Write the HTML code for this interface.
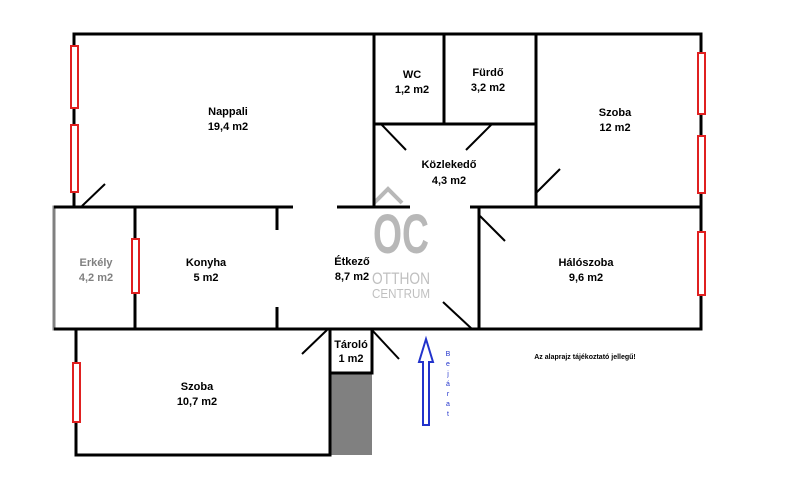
<!DOCTYPE html>
<html><head><meta charset="utf-8"><style>
body{margin:0;background:#fff}
svg text{font-family:"Liberation Sans",sans-serif;font-weight:bold;font-size:11px;text-anchor:middle}
svg text.n{font-weight:normal}
</style></head><body>
<svg width="800" height="486" xmlns="http://www.w3.org/2000/svg">
<!-- watermark -->
<g>
<text x="401" y="253" style="font-size:56px;fill:#b8b8b8" textLength="56" lengthAdjust="spacingAndGlyphs">OC</text>
<polyline points="374,203 388,189 402,203" fill="none" stroke="#b8b8b8" stroke-width="4"/>
<text class="n" x="401" y="284" style="font-size:17px;fill:#c0c0c0" textLength="58" lengthAdjust="spacingAndGlyphs">OTTHON</text>
<text class="n" x="401" y="298" style="font-size:13px;fill:#c0c0c0" textLength="58" lengthAdjust="spacingAndGlyphs">CENTRUM</text>
</g>
<!-- erkely grey -->
<polyline points="74,207 54,207 54,329 76,329" fill="none" stroke="#808080" stroke-width="3"/>
<rect x="330" y="373" width="42" height="82" fill="#808080"/>
<g stroke="#000" stroke-width="3" fill="none">
<polyline points="74,207 74,34 701,34 701,329 54,329"/>
<line x1="54" y1="207" x2="293" y2="207"/>
<line x1="337" y1="207" x2="410" y2="207"/>
<line x1="470" y1="207" x2="701" y2="207"/>
<line x1="479" y1="207" x2="479" y2="329"/>
<line x1="374" y1="34" x2="374" y2="207"/>
<line x1="444" y1="34" x2="444" y2="124"/>
<line x1="374" y1="124" x2="536" y2="124"/>
<line x1="536" y1="34" x2="536" y2="207"/>
<line x1="135" y1="207" x2="135" y2="329"/>
<line x1="277" y1="207" x2="277" y2="230"/>
<line x1="277" y1="307" x2="277" y2="329"/>
<polyline points="76,329 76,455 330,455 330,329"/>
<polyline points="330,373 372,373 372,329"/>
</g>
<g stroke="#000" stroke-width="2">
<line x1="82" y1="206" x2="105" y2="184"/>
<line x1="381" y1="124" x2="406" y2="150"/>
<line x1="466" y1="150" x2="492" y2="124"/>
<line x1="536" y1="193" x2="560" y2="169"/>
<line x1="480" y1="216" x2="505" y2="241"/>
<line x1="443" y1="302" x2="472" y2="329"/>
<line x1="327" y1="330" x2="302" y2="354"/>
<line x1="372" y1="330" x2="399" y2="359"/>
</g>
<g fill="#fff" stroke="#e02020" stroke-width="2">
<rect x="71" y="46" width="7" height="62"/>
<rect x="71" y="125" width="7" height="67"/>
<rect x="698" y="53" width="7" height="61"/>
<rect x="698" y="136" width="7" height="57"/>
<rect x="698" y="232" width="7" height="63"/>
<rect x="132" y="239" width="7" height="54"/>
<rect x="73" y="363" width="7" height="59"/>
</g>
<polygon points="426,339 433,362 429,362 429,425 423,425 423,362 419,362" fill="#fff" stroke="#2233cc" stroke-width="2"/>
<g fill="#2233cc">
<text class="n" x="448" y="356" style="font-size:7px">B</text><text class="n" x="448" y="366" style="font-size:7px">e</text><text class="n" x="448" y="376" style="font-size:7px">j</text><text class="n" x="448" y="386" style="font-size:7px">á</text><text class="n" x="448" y="396" style="font-size:7px">r</text><text class="n" x="448" y="406" style="font-size:7px">a</text><text class="n" x="448" y="416" style="font-size:7px">t</text>
</g>
<text x="585" y="359" style="font-size:7px">Az alaprajz tájékoztató jellegű!</text>
<text x="228" y="115">Nappali</text><text x="228" y="130">19,4 m2</text>
<text x="412" y="78">WC</text><text x="412" y="93">1,2 m2</text>
<text x="488" y="76">Fürdő</text><text x="488" y="91">3,2 m2</text>
<text x="615" y="116">Szoba</text><text x="615" y="131">12 m2</text>
<text x="449" y="168">Közlekedő</text><text x="449" y="184">4,3 m2</text>
<text x="96" y="266" fill="#808080">Erkély</text><text x="96" y="281" fill="#808080">4,2 m2</text>
<text x="206" y="266">Konyha</text><text x="206" y="281">5 m2</text>
<text x="352" y="265">Étkező</text><text x="352" y="280">8,7 m2</text>
<text x="586" y="266">Hálószoba</text><text x="586" y="281">9,6 m2</text>
<text x="351" y="348">Tároló</text><text x="351" y="362">1 m2</text>
<text x="197" y="390">Szoba</text><text x="197" y="405">10,7 m2</text>
</svg>
</body></html>
